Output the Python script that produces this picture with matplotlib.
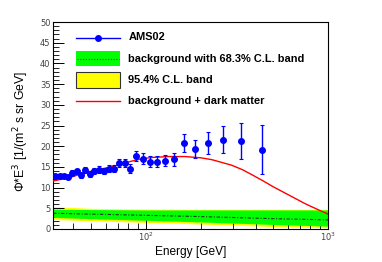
import matplotlib
matplotlib.use("Agg")
import matplotlib.pyplot as plt
from matplotlib.lines import Line2D
from matplotlib.patches import Rectangle
from matplotlib.ticker import NullFormatter

# ---- data ----
ams_E = [31.6, 33.7, 35.4, 37.4, 39.4, 41.6, 43.9, 46.4, 49.1, 52.0, 55.2, 58.8,
         62.4, 66.7, 71.1, 76.4, 82.0, 88.5, 96.3, 104.8, 114.9, 127.6, 143.0,
         161.7, 185.9, 219.9, 264.7, 331.5, 432.2]
ams_flux = [12.7, 12.8, 12.8, 12.6, 13.6, 13.9, 13.0, 14.3, 13.2, 14.0, 14.3, 14.0,
            14.6, 14.6, 15.9, 15.9, 14.6, 17.7, 17.0, 16.3, 16.3, 16.5, 16.8,
            20.8, 19.4, 20.8, 21.6, 21.3, 19.2]
ams_err = [0.5, 0.5, 0.5, 0.5, 0.6, 0.6, 0.6, 0.7, 0.7, 0.7, 0.8, 0.8,
           0.9, 0.9, 1.0, 1.0, 1.0, 1.2, 1.3, 1.3, 1.4, 1.4, 1.5,
           2.2, 2.2, 2.7, 3.3, 4.4, 6.0]

dm_E = [31, 35, 40, 46, 52, 60, 71, 82, 95, 110, 133, 164, 200, 230, 260, 296,
        340, 390, 441, 500, 580, 673, 750, 830, 910, 1000]
dm_flux = [11.6, 12.1, 12.7, 13.6, 14.1, 14.7, 15.5, 16.3, 17.0, 17.3, 17.5, 17.5,
           17.2, 16.75, 16.1, 15.4, 14.3, 12.9, 11.6, 10.2, 8.7, 7.2, 6.1, 5.2,
           4.4, 3.6]

band_E = [31, 50, 100, 200, 500, 1000]
bg_center = [3.8, 3.6, 3.3, 3.0, 2.5, 2.2]
g_lo = [2.8, 2.5, 2.1, 1.7, 1.1, 0.7]
g_hi = [4.8, 4.7, 4.6, 4.6, 4.6, 4.6]
y_lo = [2.3, 2.0, 1.6, 1.2, 0.6, 0.3]
y_hi = [5.4, 5.0, 4.8, 4.7, 4.7, 4.7]

legend_labels = ["AMS02", "background with 68.3% C.L. band", "95.4% C.L. band",
                 "background + dark matter"]

W, H = 382, 262
fig = plt.figure(figsize=(W / 100, H / 100), dpi=100)
ax = fig.add_axes([53.3 / W, 1 - 229 / H, (328 - 53.3) / W, (229 - 22) / H])

ax.fill_between(band_E, y_lo, y_hi, color="#ffff00", lw=0, zorder=1)
ax.fill_between(band_E, g_lo, g_hi, color="#00ff00", lw=0, zorder=2)
ax.plot(band_E, bg_center, color="#1a3a1a", lw=0.8, dashes=(3, 1.5, 1, 1.5), zorder=3)
ax.plot(dm_E, dm_flux, color="#ff0000", lw=1.0, zorder=4)
ax.errorbar(ams_E, ams_flux, yerr=ams_err, fmt="o", color="#0000ff", ms=4,
            elinewidth=1.0, capsize=1.3, capthick=0.8, zorder=5)

ax.set_xscale("log")
ax.set_xlim(31, 1000)
ax.set_ylim(0, 50)
ax.set_yticks(range(0, 51, 5))
ax.set_yticks(range(0, 51, 1), minor=True)
ax.tick_params(axis="both", which="major", direction="in", length=8, width=0.7,
               labelsize=6, labelcolor="#444444", top=False, right=False)
ax.tick_params(axis="both", which="minor", direction="in", length=4, width=0.6,
               top=False, right=False)
ax.tick_params(axis="y", which="major", pad=2)
ax.tick_params(axis="x", which="major", pad=1.5)
ax.xaxis.set_minor_formatter(NullFormatter())
for s in ax.spines.values():
    s.set_linewidth(0.8)

ax.set_xlabel("Energy [GeV]", fontsize=8.6, family="Liberation Sans", labelpad=2)
ax.set_ylabel("Φ*E$^{3}$ [1/(m$^{2}$ s sr GeV]", fontsize=8.8, family="Liberation Sans")
ax.yaxis.set_label_coords(-0.081, 0.47)

# ---- legend (manual) ----
def fx(x):
    return x / W

def fy(y):
    return 1 - y / H

tr = fig.transFigure
rows = [37.5, 58.5, 80, 101]
fig.add_artist(Line2D([fx(76), fx(120)], [fy(rows[0])] * 2, color="#0000ff", lw=1.0,
                      transform=tr))
fig.add_artist(Line2D([fx(98)], [fy(rows[0])], color="#0000ff", marker="o", ms=4,
                      transform=tr))
fig.add_artist(Rectangle((fx(76), fy(66)), fx(44), 15 / H, facecolor="#00ff00",
                         edgecolor="none", transform=tr))
fig.add_artist(Line2D([fx(77), fx(119)], [fy(rows[1])] * 2, color="#1a3a1a", lw=0.8,
                      dashes=(1, 1.5), transform=tr))
fig.add_artist(Rectangle((fx(76), fy(87.5)), fx(44), 15 / H, facecolor="#ffff00",
                         edgecolor="#333333", lw=0.8, transform=tr))
fig.add_artist(Line2D([fx(76), fx(120)], [fy(rows[3])] * 2, color="#ff0000", lw=1.0,
                      transform=tr))
for lab, r in zip(legend_labels, rows):
    fig.text(fx(128.5), fy(r), lab, fontsize=7.9, fontweight="bold",
             family="Liberation Sans", va="center", ha="left")

fig.savefig("out.png", dpi=100)
